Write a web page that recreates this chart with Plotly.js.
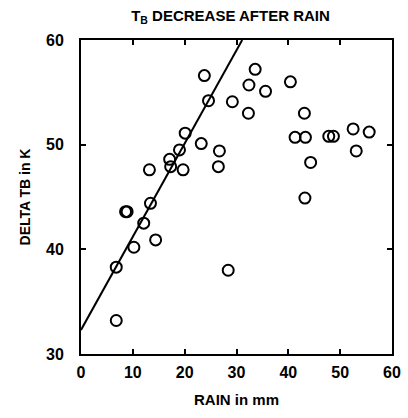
<!DOCTYPE html>
<html>
<head>
<meta charset="utf-8">
<script src="https://cdn.plot.ly/plotly-3.0.1.min.js"></script>
<style>html,body{margin:0;padding:0;background:#fff;}#chart{width:408px;height:418px;}</style>
</head>
<body>
<div id="chart"></div>
<script>
// Rain (mm) and Delta TB (K) observations
const rain = [23.8, 24.6, 33.6, 32.4, 35.6, 29.2, 32.3, 40.4, 43.1, 20.1, 23.2, 26.7, 26.5, 19.0, 17.1, 17.3, 19.7, 13.2, 13.4, 8.6, 8.9, 12.1, 14.4, 10.2, 6.8, 6.8, 28.4, 41.3, 43.3, 44.3, 43.2, 47.8, 48.7, 52.5, 53.1, 55.6];
const deltaTB = [56.6, 54.2, 57.2, 55.7, 55.1, 54.1, 53.0, 56.0, 53.0, 51.1, 50.1, 49.4, 47.9, 49.5, 48.6, 47.9, 47.6, 47.6, 44.4, 43.6, 43.6, 42.5, 40.9, 40.2, 38.3, 33.2, 38.0, 50.7, 50.7, 48.3, 44.9, 50.8, 50.8, 51.5, 49.4, 51.2];
// Fitted line endpoints
const fitX = [0, 31.1];
const fitY = [32.3, 60];
const xTicks = [0, 10, 20, 30, 40, 50, 60];
const yTicks = [30, 40, 50, 60];

const fam = 'Liberation Sans, Arial, sans-serif';

const traces = [
  {x: rain, y: deltaTB, mode: 'markers', type: 'scatter',
   marker: {symbol: 'circle-open', size: 11, color: '#000', line: {width: 2, color: '#000'}},
   hoverinfo: 'x+y'},
  {x: fitX, y: fitY, mode: 'lines', type: 'scatter',
   line: {color: '#000', width: 2}, hoverinfo: 'skip'}
];

const axisCommon = {
  showgrid: false, zeroline: false, showline: true, mirror: 'ticks',
  linecolor: '#000', linewidth: 2, ticks: 'inside', ticklen: 5, tickwidth: 2, tickcolor: '#000',
  tickfont: {family: fam, size: 16, color: '#000', weight: 'bold'}
};

const layout = {
  width: 408, height: 418,
  margin: {l: 81, r: 16, t: 40, b: 64},
  paper_bgcolor: '#fff', plot_bgcolor: '#fff',
  showlegend: false,
  font: {family: fam, color: '#000', size: 14},
  title: {text: 'T<sub>B</sub> DECREASE AFTER RAIN', x: 0.565, xanchor: 'center', y: 0.975, yanchor: 'top',
          font: {family: fam, size: 15, color: '#000', weight: 'bold'}},
  xaxis: Object.assign({}, axisCommon, {
    range: [0, 60], tickvals: xTicks, ticktext: xTicks.map(String), ticklabelstandoff: 3,
    title: {text: 'RAIN in mm', standoff: 14, font: {family: fam, size: 15, color: '#000', weight: 'bold'}}
  }),
  yaxis: Object.assign({}, axisCommon, {
    range: [30, 60], tickvals: yTicks, ticktext: yTicks.map(String), ticklabelstandoff: 12,
    title: {text: 'DELTA TB in K', standoff: 12, font: {family: fam, size: 14, color: '#000', weight: 'bold'}}
  })
};

Plotly.newPlot('chart', traces, layout, {displayModeBar: false, staticPlot: true});
</script>
</body>
</html>
